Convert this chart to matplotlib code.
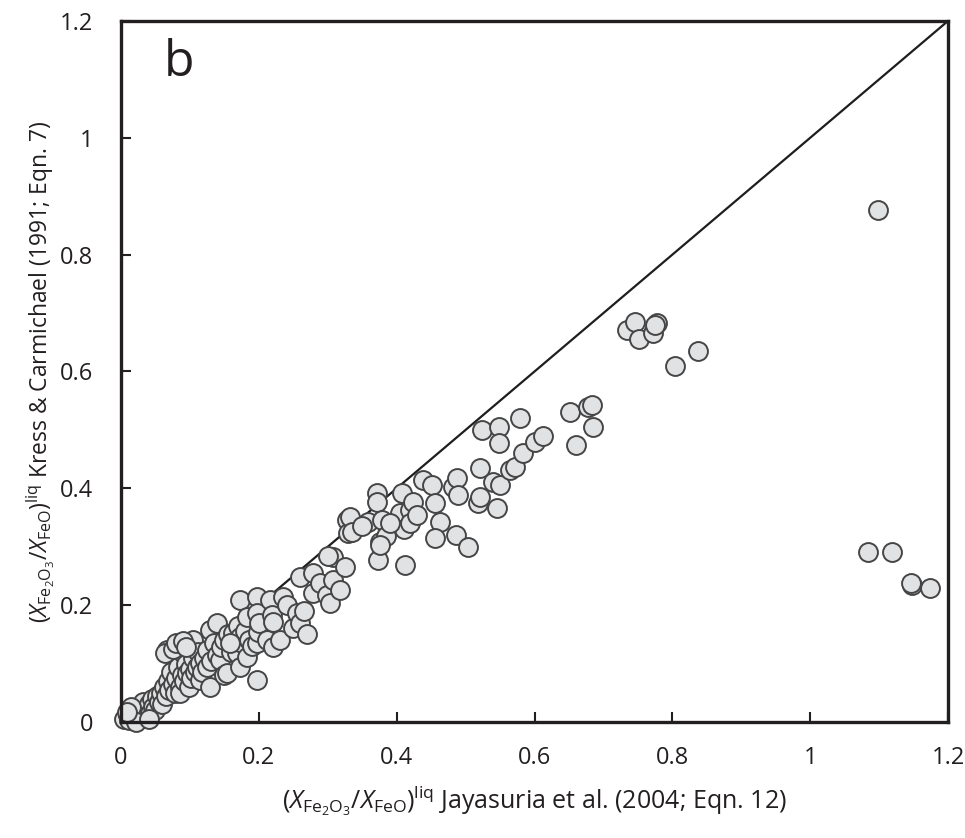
import matplotlib
matplotlib.use("Agg")
import matplotlib.pyplot as plt

plt.rcParams['font.family'] = ['Open Sans', 'DejaVu Sans']
plt.rcParams['mathtext.fontset'] = 'custom'
plt.rcParams['mathtext.rm'] = 'Open Sans'
plt.rcParams['mathtext.it'] = 'Open Sans:italic'

# Jayasuria et al. (2004) vs Kress & Carmichael (1991) Fe2O3/FeO ratios
x_low = [0.005, 0.01, 0.012, 0.018, 0.02, 0.025, 0.028, 0.03, 0.032, 0.035, 0.038, 0.04,
         0.042, 0.045, 0.047, 0.05, 0.052, 0.055, 0.058, 0.06, 0.015, 0.022, 0.008, 0.04]
y_low = [0.005, 0.012, 0.003, 0.01, 0.02, 0.005, 0.026, 0.015, 0.035, 0.008, 0.022, 0.03,
         0.015, 0.04, 0.025, 0.02, 0.045, 0.035, 0.05, 0.03, 0.025, 0.0, 0.018, 0.005]

x_mid1 = [0.062, 0.065, 0.068, 0.07, 0.072, 0.075, 0.078, 0.08, 0.082, 0.085, 0.086, 0.088,
          0.09, 0.092, 0.095, 0.096, 0.098, 0.1, 0.1, 0.102, 0.105, 0.105, 0.108, 0.11,
          0.112, 0.115, 0.115, 0.118, 0.12, 0.067, 0.064, 0.075, 0.08, 0.09, 0.095]
y_mid1 = [0.06, 0.045, 0.07, 0.055, 0.085, 0.065, 0.05, 0.075, 0.095, 0.06, 0.05, 0.08,
          0.118, 0.07, 0.1, 0.084, 0.06, 0.13, 0.09, 0.075, 0.14, 0.11, 0.085, 0.095,
          0.12, 0.101, 0.072, 0.085, 0.11, 0.123, 0.118, 0.125, 0.135, 0.138, 0.128]

x_mid2 = [0.125, 0.125, 0.129, 0.129, 0.13, 0.135, 0.139, 0.14, 0.144, 0.145, 0.15, 0.149,
          0.154, 0.155, 0.16, 0.163, 0.165, 0.168, 0.17, 0.173, 0.173, 0.173, 0.175,
          0.18, 0.183, 0.183, 0.185, 0.19, 0.197, 0.197, 0.197, 0.199, 0.197, 0.2, 0.158]
y_mid2 = [0.123, 0.095, 0.158, 0.06, 0.105, 0.135, 0.17, 0.115, 0.106, 0.128, 0.14, 0.081,
          0.084, 0.15, 0.12, 0.152, 0.13, 0.118, 0.165, 0.146, 0.209, 0.094, 0.135,
          0.155, 0.18, 0.111, 0.14, 0.13, 0.214, 0.187, 0.135, 0.154, 0.072, 0.17, 0.135]

x_mid3 = [0.212, 0.216, 0.219, 0.221, 0.221, 0.231, 0.235, 0.241, 0.25, 0.255, 0.26, 0.26,
          0.265, 0.27, 0.279, 0.279, 0.289, 0.299, 0.303, 0.308, 0.308, 0.318, 0.328,
          0.33, 0.3, 0.325]
y_mid3 = [0.14, 0.209, 0.183, 0.171, 0.128, 0.14, 0.214, 0.2, 0.161, 0.187, 0.169, 0.248,
          0.19, 0.15, 0.255, 0.221, 0.238, 0.217, 0.204, 0.243, 0.283, 0.226, 0.346,
          0.324, 0.285, 0.265]

x_high = [0.332, 0.335, 0.359, 0.371, 0.371, 0.378, 0.376, 0.385, 0.373, 0.376, 0.405,
          0.408, 0.41, 0.412, 0.419, 0.42, 0.424, 0.438, 0.451, 0.456, 0.463, 0.456,
          0.35, 0.39, 0.43,
          0.482, 0.488, 0.489, 0.486, 0.504, 0.518, 0.521, 0.521, 0.524, 0.54, 0.546,
          0.549, 0.549, 0.55, 0.565, 0.572, 0.579, 0.583, 0.601, 0.612, 0.652, 0.66,
          0.678, 0.683, 0.685,
          0.734, 0.746, 0.752, 0.772, 0.778, 0.775, 0.804, 0.837,
          1.098, 1.084, 1.119, 1.148, 1.146, 1.174]
y_high = [0.351, 0.325, 0.342, 0.392, 0.377, 0.346, 0.308, 0.318, 0.277, 0.303, 0.358,
          0.392, 0.33, 0.269, 0.363, 0.34, 0.377, 0.414, 0.406, 0.375, 0.342, 0.315,
          0.335, 0.34, 0.355,
          0.403, 0.417, 0.388, 0.32, 0.3, 0.375, 0.385, 0.435, 0.5, 0.41, 0.366,
          0.505, 0.478, 0.405, 0.432, 0.437, 0.52, 0.46, 0.48, 0.49, 0.53, 0.474,
          0.54, 0.543, 0.505,
          0.671, 0.685, 0.656, 0.666, 0.683, 0.68, 0.61, 0.635,
          0.876, 0.291, 0.291, 0.235, 0.238, 0.229]

xs = x_low + x_mid1 + x_mid2 + x_mid3 + x_high
ys = y_low + y_mid1 + y_mid2 + y_mid3 + y_high

ticks = [0, 0.2, 0.4, 0.6, 0.8, 1.0, 1.2]
tick_labels = ['0', '0.2', '0.4', '0.6', '0.8', '1', '1.2']

fig = plt.figure(figsize=(9.65, 8.38), dpi=100)
ax = fig.add_axes([0.1254, 0.1384, 0.857, 0.8366])

ax.plot([0, 1.2], [0, 1.2], color='#1e1e1e', lw=1.6, zorder=1)
ax.scatter(xs, ys, s=185, facecolor='#e1e2e4', edgecolor='#454545',
           linewidths=1.4, clip_on=False, zorder=2)

ax.set_xlim(0, 1.2)
ax.set_ylim(0, 1.2)
ax.set_xticks(ticks)
ax.set_xticklabels(tick_labels)
ax.set_yticks(ticks)
ax.set_yticklabels(tick_labels)
ax.tick_params(direction='in', length=7, width=1.5, labelsize=17, pad=17,
               colors='#231f20')
ax.tick_params(axis='y', pad=20)
for sp in ax.spines.values():
    sp.set_linewidth(2.4)
    sp.set_color('#231f20')

ax.set_xlabel(r'$(X_{\mathrm{Fe_2O_3}}/X_{\mathrm{FeO}})^{\mathrm{liq}}$ Jayasuria et al. (2004; Eqn. 12)',
              fontsize=18, labelpad=10, color='#231f20')
ax.set_ylabel(r'$(X_{\mathrm{Fe_2O_3}}/X_{\mathrm{FeO}})^{\mathrm{liq}}$ Kress & Carmichael (1991; Eqn. 7)',
              fontsize=16.5, labelpad=2, color='#231f20')

ax.text(0.052, 0.975, 'b', transform=ax.transAxes, fontsize=36, va='top',
        ha='left', color='#231f20')

fig.savefig('out.png', dpi=100)
